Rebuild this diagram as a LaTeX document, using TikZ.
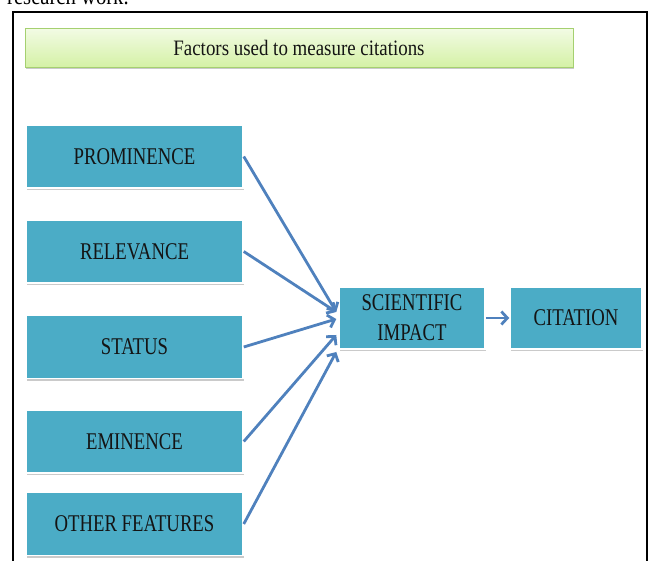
\documentclass[tikz,border=0pt]{standalone}
\usepackage{fontspec}
\setmainfont{Liberation Serif}[FakeStretch=0.78]
\newfontfamily\titlefont{Liberation Serif}[FakeStretch=0.86]
\usetikzlibrary{arrows.meta,shadows,calc}
\definecolor{boxblue}{RGB}{75,172,198}
\definecolor{linkblue}{RGB}{79,129,189}
\definecolor{titletop}{RGB}{242,251,228}
\definecolor{titlebot}{RGB}{212,241,165}
\definecolor{titleedge}{RGB}{165,208,112}
\begin{document}
\begin{tikzpicture}[x=1pt,y=-1pt,
  factor/.style={draw=white, line width=1.5pt, fill=boxblue,
    minimum width=217pt, minimum height=63pt, inner sep=0pt, align=center,
    text=black!92, font=\fontsize{24}{30}\selectfont,
    drop shadow={shadow xshift=0.8pt, shadow yshift=-2.5pt, opacity=0.35, fill=black!60}},
  titlebox/.style={draw=titleedge, line width=1pt, top color=titletop, bottom color=titlebot,
    minimum width=548pt, minimum height=39pt, inner sep=0pt,
    text=black!92, font=\titlefont\fontsize{22}{26}\selectfont,
    drop shadow={shadow xshift=0.8pt, shadow yshift=-2pt, opacity=0.35, fill=black!60}},
  link/.style={draw=linkblue, line width=2.8pt, -{Straight Barb[length=6pt,width=13pt]}}]

\useasboundingbox (0,0) rectangle (649,561);
\begin{scope}
  \clip (0,0) rectangle (649,561);
  % caption line running above the frame
  \node[anchor=base west, inner sep=0pt, font=\titlefont\fontsize{24}{28}\selectfont] (caption) at (7,5) {research work.};
  % outer frame
  \draw[line width=1.6pt] (13,580) -- (13,12) -- (647,12) -- (647,580);

  \node[titlebox] (title) at (299,48) {Factors used to measure citations};

  \node[factor] (prom)  at (134.5,156.5) {PROMINENCE};
  \node[factor] (rel)   at (134.5,251.5) {RELEVANCE};
  \node[factor] (stat)  at (134.5,347)   {STATUS};
  \node[factor] (emi)   at (134.5,441.5) {EMINENCE};
  \node[factor] (other) at (134.5,524)   {OTHER FEATURES};

  \node[factor, minimum width=146pt, minimum height=62pt] (sci) at (412,318) {SCIENTIFIC\\IMPACT};
  \node[factor, minimum width=132pt, minimum height=62pt] (cit) at (576,318) {CITATION};

  \draw[link] (prom.east)  -- ($(sci.west)+(-2,-6)$);
  \draw[link] (rel.east)   -- ($(sci.west)+(-2,-6)$);
  \draw[link] (stat.east)  -- ($(sci.west)+(-2,1)$);
  \draw[link] (emi.east)   -- ($(sci.west)+(-2,17)$);
  \draw[link] (other.east) -- ($(sci.west)+(-2,34)$);
  \draw[link] (sci.east) -- (cit.west);
\end{scope}
\end{tikzpicture}
\end{document}
